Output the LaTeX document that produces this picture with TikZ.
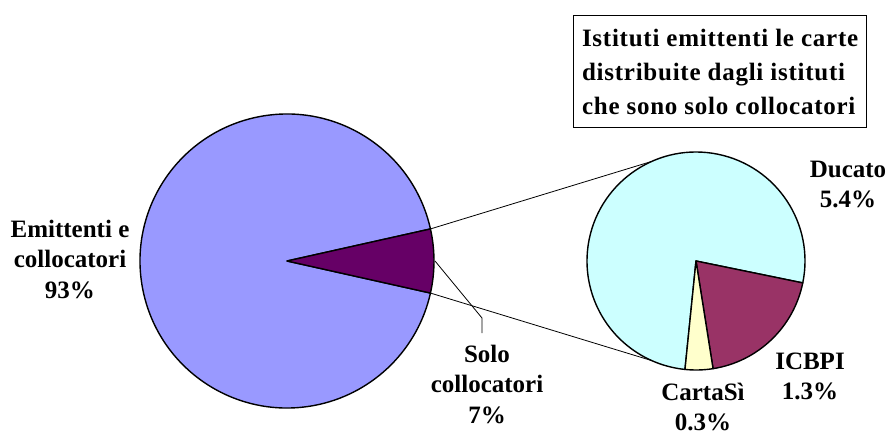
\documentclass[tikz,border=0pt]{standalone}
\usepackage{fontspec}
\setmainfont{Liberation Serif}
\usetikzlibrary{positioning,calc}

\definecolor{emitt}{HTML}{9999FF}
\definecolor{solo}{HTML}{660066}
\definecolor{ducato}{HTML}{CCFFFF}
\definecolor{icbpi}{HTML}{993366}
\definecolor{cartasi}{HTML}{FFFFCC}

\begin{document}
\begin{tikzpicture}[x=1pt,y=1pt,
  lbl/.style={align=center,inner sep=0pt,font=\fontsize{25}{30.5}\selectfont\bfseries},
  slice/.style={draw=black,line width=1.4pt,line join=round},
  link/.style={draw=black,line width=0.8pt},
  titlebox/.style={draw,line width=1.2pt,minimum width=293pt,minimum height=112pt,inner xsep=8pt,align=left,
    font=\addfontfeature{LetterSpace=3}\fontsize{25}{34}\selectfont\bfseries},
]

\useasboundingbox (0,0) rectangle (887,432);

% main pie
\coordinate (bigC) at (287,171);
\filldraw[slice,fill=emitt] (bigC) -- ++(12.6:147) arc[start angle=12.6,end angle=347.4,radius=147] -- cycle;
\filldraw[slice,fill=solo] (bigC) -- ++(-12.6:147) arc[start angle=-12.6,end angle=12.6,radius=147] -- cycle;

% second pie
\coordinate (smallC) at (696,171);
\filldraw[slice,fill=ducato] (smallC) -- ++(-11.6:109) arc[start angle=-11.6,end angle=264.2,radius=109] -- cycle;
\filldraw[slice,fill=icbpi] (smallC) -- ++(-81:109) arc[start angle=-81,end angle=-11.6,radius=109] -- cycle;
\filldraw[slice,fill=cartasi] (smallC) -- ++(-95.8:109) arc[start angle=-95.8,end angle=-81,radius=109] -- cycle;

% links between the pies
\coordinate (soloTop) at ($(bigC)+(12.6:147)$);
\coordinate (soloBot) at ($(bigC)+(-12.6:147)$);
\coordinate (zoomTop) at ($(smallC)+(114:109)$);
\coordinate (zoomBot) at ($(smallC)+(-114:109)$);
\draw[link] (soloTop) -- (zoomTop);
\draw[link] (soloBot) -- (zoomBot);

% labels
\node[lbl] (emLbl) at (70,173) {Emittenti e\\collocatori\\93\%};
\node[lbl] (soloLbl) at (487,48) {Solo\\collocatori\\7\%};
\node[lbl] (ducLbl) at (848,247.5) {Ducato\\5.4\%};
\node[lbl] (icbLbl) at (810,55.5) {ICBPI\\1.3\%};
\node[lbl] (carLbl) at (703,25) {CartaSì\\0.3\%};

\coordinate (soloOut) at ($(bigC)+(0:148)$);
\coordinate (soloBend) at (482,114);
\coordinate (soloEnd) at (482,99);
\draw[link] (soloOut) -- (soloBend) -- (soloEnd);

\node[titlebox,anchor=north west] (title) at (573,417) {Istituti emittenti le carte\\distribuite dagli istituti\\che sono solo collocatori};

\end{tikzpicture}
\end{document}
